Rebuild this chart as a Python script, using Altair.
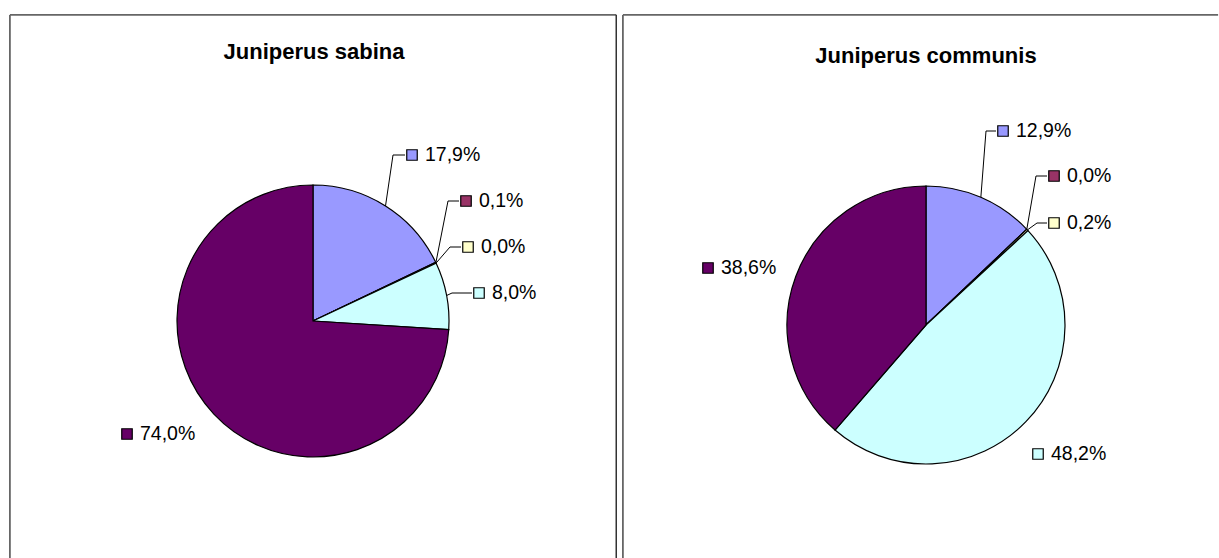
import altair as alt
import pandas as pd

# ---- data ----
CATS = ["A", "B", "C", "D", "E"]
COLORS = ["#9999FF", "#993366", "#FFFFCC", "#CCFFFF", "#660066"]

TITLE_L = "Juniperus sabina"
VALUES_L = [17.9, 0.1, 0.0, 8.0, 74.0]

TITLE_R = "Juniperus communis"
VALUES_R = [12.9, 0.0, 0.2, 48.2, 38.6]

# ---- layout (absolute window pixels) ----
PAD_L, PAD_T = 9, 14
W_L, W_R, H = 608, 597, 544
SPACING = 5
LEFT_X0 = PAD_L
RIGHT_X0 = PAD_L + W_L + SPACING

PIE_L = dict(cx=313, cy=321, r=136, title_xy=(314, 52))
PIE_R = dict(cx=926, cy=325, r=139, title_xy=(926, 56))

LAB_L = [(412, 155), (466, 201), (468, 247), (479, 293), (127, 434)]
ELB_L = [393, 448, 450, 452, None]
LAB_R = [(1003, 131), (1054, 176), (1054, 223), (1038, 454), (708, 268)]
ELB_R = [986, 1036, 1037, None, None]

FONT = "Liberation Sans"
LABEL_SIZE = 19.5
TITLE_SIZE = 22


def fmt(v):
    return f"{v:.1f}".replace(".", ",") + "%"


def panel(title, values, pie, labs, elbows, x0, width):
    cx, cy, r = pie["cx"] - x0, pie["cy"] - PAD_T, pie["r"]
    df = pd.DataFrame({
        "cat": CATS,
        "value": values,
        "order": list(range(len(CATS))),
        "label": [fmt(v) for v in values],
        "lx": [p[0] - x0 for p in labs],
        "ly": [p[1] - PAD_T for p in labs],
        "elb": [(e - x0) if e is not None else 0 for e in elbows],
        "leader": [e is not None for e in elbows],
    })
    color = alt.Color("cat:N", scale=alt.Scale(domain=CATS, range=COLORS), legend=None)

    arcs = alt.Chart(df).mark_arc(radius=r, stroke="black", strokeWidth=1.2).encode(
        theta=alt.Theta("value:Q", stack=True),
        order=alt.Order("order:Q"),
        color=color,
        x=alt.value(cx),
        y=alt.value(cy),
    )

    base = (
        alt.Chart(df)
        .transform_joinaggregate(total="sum(value)")
        .transform_window(cum="sum(value)", sort=[alt.SortField("order")], frame=[None, 0])
        .transform_calculate(
            mid="2*PI*(datum.cum - datum.value/2)/datum.total",
        )
        .transform_calculate(
            ex=f"{cx} + {r}*sin(datum.mid)",
            ey=f"{cy} - {r}*cos(datum.mid)",
            lend="datum.lx - 7",
        )
    )
    lead1 = base.transform_filter("datum.leader").mark_rule(color="black", strokeWidth=1).encode(
        x=alt.X("ex:Q", scale=None, axis=None),
        y=alt.Y("ey:Q", scale=None, axis=None),
        x2="elb:Q",
        y2="ly:Q",
    )
    lead2 = base.transform_filter("datum.leader").mark_rule(color="black", strokeWidth=1).encode(
        x=alt.X("elb:Q", scale=None, axis=None),
        y=alt.Y("ly:Q", scale=None, axis=None),
        x2="lend:Q",
    )
    keys = alt.Chart(df).mark_square(size=110, filled=True, opacity=1, stroke="black", strokeWidth=1.2).encode(
        x=alt.X("lx:Q", scale=None, axis=None),
        y=alt.Y("ly:Q", scale=None, axis=None),
        color=color,
    )
    texts = alt.Chart(df).mark_text(align="left", baseline="middle", dx=13, font=FONT,
                                    fontSize=LABEL_SIZE, color="black").encode(
        x=alt.X("lx:Q", scale=None, axis=None),
        y=alt.Y("ly:Q", scale=None, axis=None),
        text="label:N",
    )
    one = pd.DataFrame({"t": [title]})
    ttl = alt.Chart(one).mark_text(align="center", baseline="middle", font=FONT, fontSize=TITLE_SIZE,
                                   fontWeight="bold", color="black").encode(
        x=alt.value(pie["title_xy"][0] - x0),
        y=alt.value(pie["title_xy"][1] - PAD_T),
        text="t:N",
    )
    frame_df = pd.DataFrame({"k": [0]})
    top = alt.Chart(frame_df).mark_rule(color="#666666", strokeWidth=1.8).encode(
        x=alt.value(0.9), x2=alt.value(width - 0.9), y=alt.value(0.9))
    left = alt.Chart(frame_df).mark_rule(color="#666666", strokeWidth=1.8).encode(
        x=alt.value(0.9), y=alt.value(0.9), y2=alt.value(H))
    layers = [arcs, lead1, lead2, keys, texts, ttl, top, left]
    if x0 == LEFT_X0:
        right = alt.Chart(frame_df).mark_rule(color="#333333", strokeWidth=1.5).encode(
            x=alt.value(width - 0.75), y=alt.value(0.75), y2=alt.value(H))
        layers.append(right)
    return alt.layer(*layers).properties(width=width, height=H)


left_panel = panel(TITLE_L, VALUES_L, PIE_L, LAB_L, ELB_L, LEFT_X0, W_L)
right_panel = panel(TITLE_R, VALUES_R, PIE_R, LAB_R, ELB_R, RIGHT_X0, W_R)

chart = (
    alt.hconcat(left_panel, right_panel, spacing=SPACING, bounds="flush")
    .properties(padding={"left": PAD_L, "top": PAD_T, "right": 0, "bottom": 0}, background="white")
    .configure_view(stroke=None)
)

chart.save("out.html", embed_options={"renderer": "svg", "actions": False})
